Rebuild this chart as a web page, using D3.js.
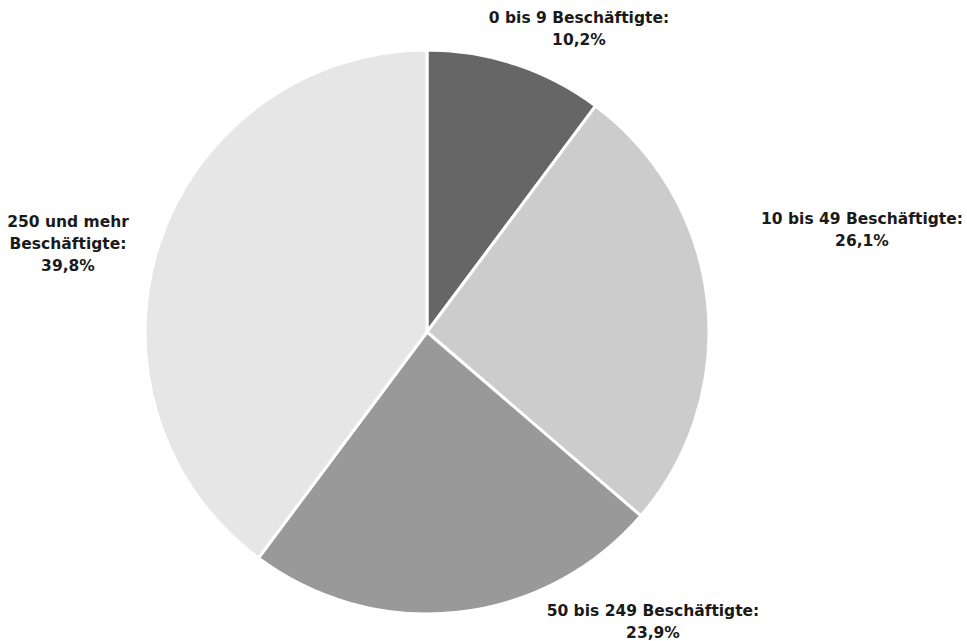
<!DOCTYPE html>
<html>
<head>
<meta charset="utf-8">
<script src="https://cdn.jsdelivr.net/npm/d3@7"></script>
<style>
  body { margin: 0; background: #fff; }
  text { font-family: "DejaVu Sans", Verdana, sans-serif; font-weight: bold; font-size: 15.5px; fill: #1a1a1a; }
</style>
</head>
<body>
<svg id="chart"></svg>
<script>
// Data
const categories = ["0 bis 9 Beschäftigte", "10 bis 49 Beschäftigte", "50 bis 249 Beschäftigte", "250 und mehr Beschäftigte"];
const values = [10.2, 26.1, 23.9, 39.8];
const colors = ["#666666", "#cccccc", "#999999", "#e6e6e6"];
// label lines (layout)
const labelLines = [
    ["0 bis 9 Beschäftigte:", "10,2%"],
    ["10 bis 49 Beschäftigte:", "26,1%"],
    ["50 bis 249 Beschäftigte:", "23,9%"],
    ["250 und mehr", "Beschäftigte:", "39,8%"]
];
// first-line baseline position of each label, relative to pie centre
const labelOffsets = [[152, -309], [435, -108], [226, 284], [-359, -105]];

const width = 967, height = 641;
const cx = 427, cy = 332, radius = 282;

const svg = d3.select("#chart")
    .attr("width", width)
    .attr("height", height);

const g = svg.append("g")
    .attr("transform", `translate(${cx},${cy})`);

const pie = d3.pie().sort(null).value(d => d);
const arc = d3.arc().innerRadius(0).outerRadius(radius);
const arcs = pie(values);

g.selectAll("path")
    .data(arcs)
    .enter()
    .append("path")
    .attr("d", arc)
    .attr("fill", (d, i) => colors[i])
    .attr("stroke", "#fff")
    .attr("stroke-width", 3)
    .attr("stroke-linejoin", "round");

// Labels
const lineH = 22;
arcs.forEach((d, i) => {
    const lines = labelLines[i];
    const [ox, oy] = labelOffsets[i];
    const t = g.append("text")
        .attr("text-anchor", "middle")
        .attr("x", ox)
        .attr("y", oy);
    lines.forEach((l, j) => {
        t.append("tspan")
            .attr("x", ox)
            .attr("dy", j === 0 ? 0 : lineH)
            .text(l);
    });
});
</script>
</body>
</html>
